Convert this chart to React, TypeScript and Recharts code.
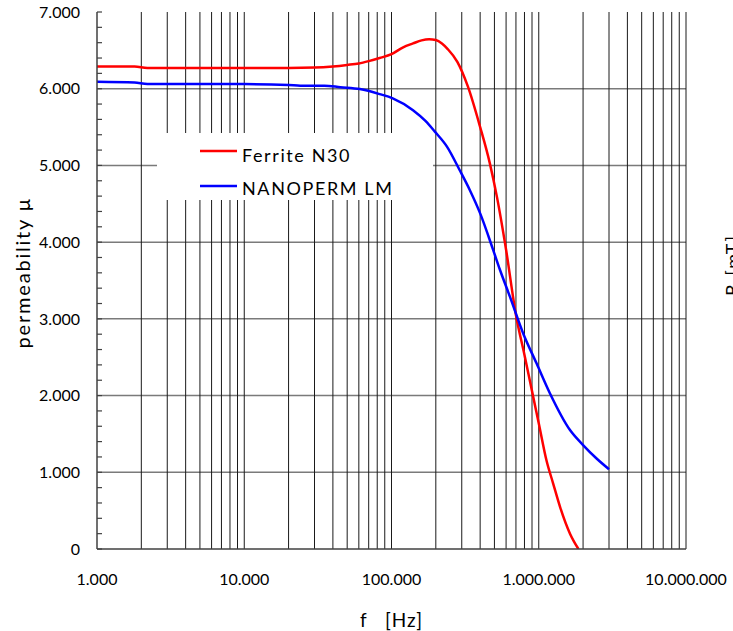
import React from 'react';
import { LineChart, Line, XAxis, YAxis, ReferenceLine, Legend, Label } from 'recharts';

const FONT = 'Lato, "Open Sans", sans-serif';

// Ferrite N30 permeability vs frequency
const ferriteFreq = [1000, 1800, 2200, 5000, 10000, 20000, 30000, 40000, 50000, 60000, 70000, 83000, 100000, 120000, 140000, 160000, 180000, 200000, 220000, 240000, 280000, 330000, 400000, 465000, 520000, 600000, 700000, 800000, 920000, 1000000, 1130000, 1250000, 1400000, 1630000, 1860000];
const ferriteMu = [6290, 6290, 6270, 6270, 6270, 6270, 6275, 6290, 6310, 6330, 6360, 6400, 6450, 6540, 6590, 6630, 6645, 6635, 6590, 6520, 6350, 6030, 5500, 5030, 4590, 3900, 3050, 2530, 1970, 1640, 1150, 860, 540, 200, 0];

// NANOPERM LM permeability vs frequency
const nanopermFreq = [1000, 1800, 2200, 5000, 10000, 20000, 24000, 35000, 45000, 61000, 83000, 102000, 140000, 170000, 197000, 238000, 290000, 340000, 400000, 490000, 545000, 637000, 784000, 966000, 1190000, 1630000, 2000000, 2470000, 3000000];
const nanopermMu = [6090, 6080, 6060, 6060, 6060, 6050, 6040, 6040, 6020, 5995, 5930, 5875, 5720, 5580, 5440, 5245, 4940, 4680, 4375, 3900, 3640, 3290, 2810, 2420, 2030, 1550, 1355, 1180, 1040];

const seriesNames = ['Ferrite N30', 'NANOPERM LM'];
const seriesColors = ['#ff0000', '#0000ff'];

const xTicks = [1000, 10000, 100000, 1000000, 10000000];
const xTickLabels = ['1.000', '10.000', '100.000', '1.000.000', '10.000.000'];
const yTicks = [0, 1000, 2000, 3000, 4000, 5000, 6000, 7000];
const yTickLabels = ['0', '1.000', '2.000', '3.000', '4.000', '5.000', '6.000', '7.000'];
const yMinorTicks = [0, 200, 400, 600, 800, 1000, 1200, 1400, 1600, 1800, 2000, 2200, 2400, 2600, 2800, 3000, 3200, 3400, 3600, 3800, 4000, 4200, 4400, 4600, 4800, 5000, 5200, 5400, 5600, 5800, 6000, 6200, 6400, 6600, 6800, 7000];
const xGridLines = [2000, 3000, 4000, 5000, 6000, 7000, 8000, 9000, 10000, 20000, 30000, 40000, 50000, 60000, 70000, 80000, 90000, 100000, 200000, 300000, 400000, 500000, 600000, 700000, 800000, 900000, 1000000, 2000000, 3000000, 4000000, 5000000, 6000000, 7000000, 8000000, 9000000, 10000000];
const yGridLines = [1000, 2000, 3000, 4000, 5000, 6000];

const ferriteData = ferriteFreq.map((f, i) => ({ f, mu: ferriteMu[i] }));
const nanopermData = nanopermFreq.map((f, i) => ({ f, mu: nanopermMu[i] }));

const YTick = (props: any) => {
  const { x, y, payload } = props;
  const idx = yTicks.indexOf(payload.value);
  const axisX = x + 17;
  return (
    <g>
      <line x1={axisX} x2={axisX + 5} y1={y} y2={y} stroke="#404040" strokeWidth={1.2} />
      {idx >= 0 && (
        <text x={x} y={y} dy="0.36em" textAnchor="end" fontFamily={FONT} fontSize={16} fill="#000">
          {yTickLabels[idx]}
        </text>
      )}
    </g>
  );
};

const renderLegend = () => (
  <svg width={276} height={67} style={{ display: 'block' }}>
    {seriesNames.map((n, i) => (
      <g key={n}>
        <line x1={43} x2={80} y1={18 + 35 * i} y2={18 + 35 * i} stroke={seriesColors[i]} strokeWidth={2.5} />
        <text x={85} y={29 + 33 * i} fontFamily={FONT} fontSize={18} letterSpacing={1.6} fill="#000">
          {n}
        </text>
      </g>
    ))}
  </svg>
);

export default function App() {
  return (
    <div style={{ position: 'absolute', left: 0, top: 0, width: 733, height: 631, background: '#fff' }}>
      <LineChart width={733} height={631} margin={{ top: 12, right: 47, bottom: 0, left: 37 }}>
        <XAxis
          dataKey="f"
          type="number"
          scale="log"
          domain={[1000, 10000000]}
          allowDataOverflow
          ticks={xTicks}
          interval={0}
          tickFormatter={(v: number) => xTickLabels[xTicks.indexOf(v)] ?? ''}
          tickLine={false}
          tickSize={0}
          tickMargin={25}
          height={82}
          axisLine={{ stroke: '#404040', strokeWidth: 1.5 }}
          tick={{ fontFamily: FONT, fontSize: 16, fill: '#000' }}
        >
          <Label
            content={(p: any) => {
              const vb = p.viewBox || { x: 97, y: 549, width: 589, height: 82 };
              return (
                <text x={vb.x + vb.width / 2} y={vb.y + 78} textAnchor="middle" fontFamily={FONT} fontSize={19} fill="#000" letterSpacing={1}>
                  {'f\u00a0\u00a0\u00a0[Hz]'}
                </text>
              );
            }}
          />
        </XAxis>
        <YAxis
          yAxisId="mu"
          type="number"
          domain={[0, 7000]}
          allowDataOverflow
          ticks={yMinorTicks}
          interval={0}
          width={60}
          tickLine={false}
          tickSize={0}
          tickMargin={17}
          axisLine={{ stroke: '#404040', strokeWidth: 1.5 }}
          tick={<YTick />}
        >
          <Label
            content={(p: any) => {
              const vb = p.viewBox || { x: 37, y: 12, width: 60, height: 537 };
              const cx = vb.x - 7;
              const cy = vb.y + vb.height / 2 - 8;
              return (
                <g>
                  <text x={cx} y={cy} transform={`rotate(-90, ${cx}, ${cy})`} textAnchor="middle" fontFamily={FONT} fontSize={20} letterSpacing={1.8} fill="#000">
                    permeability µ
                  </text>
                  <text x={739} y={265} transform={`rotate(-90, 739, 265)`} textAnchor="middle" fontFamily={FONT} fontSize={18} letterSpacing={2} fill="#000">
                    B [mT]
                  </text>
                </g>
              );
            }}
          />
        </YAxis>
        {yGridLines.map((v) => (
          <ReferenceLine key={'h' + v} yAxisId="mu" y={v} stroke="#7a7a7a" strokeWidth={1.5} />
        ))}
        {xGridLines.map((v) => (
          <ReferenceLine key={'v' + v} yAxisId="mu" x={v} stroke="#1a1a1a" strokeWidth={1} />
        ))}
        <Legend
          layout="vertical"
          align="center"
          verticalAlign="middle"
          wrapperStyle={{ left: 157, top: 133, width: 276, height: 67, backgroundColor: '#fff' }}
          content={renderLegend}
        />
        <Line
          yAxisId="mu"
          name={seriesNames[0]}
          data={ferriteData}
          dataKey="mu"
          type="monotone"
          stroke={seriesColors[0]}
          strokeWidth={2.5}
          dot={false}
          isAnimationActive={false}
        />
        <Line
          yAxisId="mu"
          name={seriesNames[1]}
          data={nanopermData}
          dataKey="mu"
          type="monotone"
          stroke={seriesColors[1]}
          strokeWidth={2.5}
          dot={false}
          isAnimationActive={false}
        />
      </LineChart>
    </div>
  );
}
